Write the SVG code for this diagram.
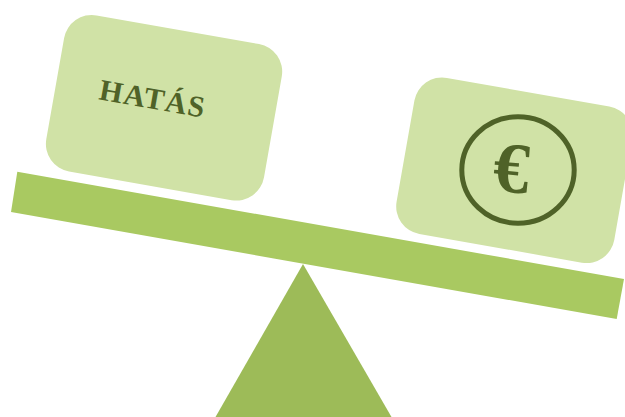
<svg xmlns="http://www.w3.org/2000/svg" width="625" height="417" viewBox="0 0 625 417">
<style>
.box{fill:#d0e2a6}
.t{font-family:"Liberation Serif","Times New Roman",serif;font-weight:bold;fill:#4f6228;text-anchor:middle}
</style>
<rect width="625" height="417" fill="#fff"/>
<g id="fulcrum"><polygon points="303,264 391.500,417 215.500,417" fill="#9dbb58"/></g>
<g id="beam"><polygon points="17.300,171.700 624,279 616.700,319 11,212" fill="#a9c961"/></g>
<g id="impact">
<rect class="box" x="-110.500" y="-79.500" width="221" height="158.500" rx="28" transform="translate(164 108) rotate(10)"/>
<text class="t" font-size="30" letter-spacing="1.300" transform="translate(151 108.500) rotate(10)">HATÁS</text>
</g>
<g id="money">
<rect class="box" x="-110.500" y="-79.500" width="221" height="158.500" rx="28" transform="translate(514.300 170.500) rotate(10)"/>
<ellipse cx="518" cy="170" rx="56.200" ry="53.300" fill="none" stroke="#4f6228" stroke-width="5"/>
<text class="t" font-size="72" transform="translate(509.500 192) rotate(5)">€</text>
</g>
</svg>
